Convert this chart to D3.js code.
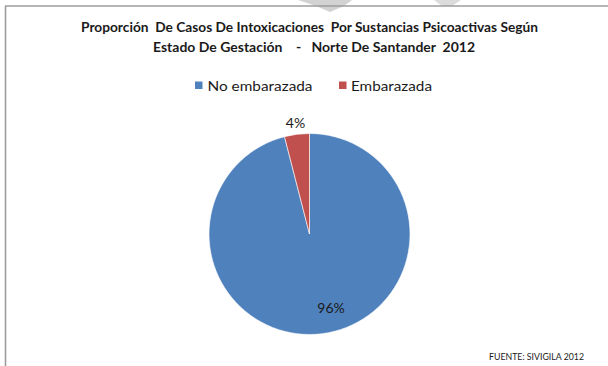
<!DOCTYPE html>
<html>
<head>
<meta charset="utf-8">
<script src="https://cdn.jsdelivr.net/npm/d3@7"></script>
<style>
  html, body { margin: 0; padding: 0; background: #fff; }
  svg { display: block; font-family: Lato, "Open Sans", "Liberation Sans", sans-serif; }
</style>
</head>
<body>
<svg id="chart" width="608" height="366"></svg>
<script>
// Pregnancy status of psychoactive-substance poisoning cases, 2012
const categories = ["No embarazada", "Embarazada"];
const values = [96, 4];
const colors = ["#4F81BD", "#C0504D"];
const titleLines = [
  "Proporción  De Casos De Intoxicaciones  Por Sustancias Psicoactivas Según",
  "Estado De Gestación    -   Norte De Santander  2012"
];
const sourceNote = "FUENTE: SIVIGILA 2012";

const svg = d3.select("#chart");

// faint watermark fragments along the top edge
svg.append("path")
  .attr("d", "M298,0 L352,0 L344,6 L330,12 L316,6 Z")
  .attr("fill", "#d2d2d2");
svg.append("path")
  .attr("d", "M434,0 L461,0 L452,6 L442,6 Z")
  .attr("fill", "#dcdcdc");

// frame: top and left rules
svg.append("line").attr("x1", 5).attr("y1", 6).attr("x2", 608).attr("y2", 6)
  .attr("stroke", "#9c9c9c").attr("stroke-width", 1.6);
svg.append("line").attr("x1", 5.5).attr("y1", 6).attr("x2", 5.5).attr("y2", 366)
  .attr("stroke", "#9c9c9c").attr("stroke-width", 1.6);

// title
const titleSpec = [
  { y: 32, x0: 81, w: 457 },
  { y: 52, x0: 153, w: 322 }
];
titleLines.forEach((t, i) => {
  svg.append("text")
    .attr("x", titleSpec[i].x0)
    .attr("y", titleSpec[i].y)
    .attr("xml:space", "preserve")
    .style("white-space", "pre")
    .attr("textLength", titleSpec[i].w)
    .attr("lengthAdjust", "spacingAndGlyphs")
    .attr("font-size", 12.5)
    .attr("font-weight", "bold")
    .attr("fill", "#1a1a1a")
    .text(t);
});

// legend
const legendItems = [
  { sx: 195, tx: 207.5, tw: 105 },
  { sx: 339, tx: 351, tw: 81 }
];
const legend = svg.append("g");
categories.forEach((c, i) => {
  legend.append("rect")
    .attr("x", legendItems[i].sx).attr("y", 81.5)
    .attr("width", 7.5).attr("height", 7.5)
    .attr("fill", colors[i]);
  legend.append("text")
    .attr("x", legendItems[i].tx).attr("y", 90.5)
    .attr("font-size", 14)
    .attr("textLength", legendItems[i].tw)
    .attr("lengthAdjust", "spacingAndGlyphs")
    .attr("fill", "#1a1a1a")
    .text(c);
});

// pie
const cx = 309.5, cy = 234, r = 100.5;
const color = d3.scaleOrdinal().domain(categories).range(colors);
const pie = d3.pie().sort(null).value(d => d.value);
const data = pie(categories.map((c, i) => ({ cat: c, value: values[i] })));
const arc = d3.arc().innerRadius(0).outerRadius(r);

const g = svg.append("g").attr("transform", `translate(${cx},${cy})`);
g.selectAll("path.slice")
  .data(data)
  .join("path")
  .attr("class", "slice")
  .attr("d", arc)
  .attr("fill", d => color(d.data.cat))
  .attr("stroke", "#ffffff")
  .attr("stroke-width", 0.6);

// percentage labels
const total = d3.sum(values);
const labelArcs = [
  d3.arc().innerRadius(r * 0.76).outerRadius(r * 0.76),
  d3.arc().innerRadius(r * 1.11).outerRadius(r * 1.11)
];
const labelShift = [[12, -2], [0, 0]];
g.selectAll("text.pct")
  .data(data)
  .join("text")
  .attr("class", "pct")
  .attr("transform", (d, i) => {
    const [x, y] = labelArcs[i].centroid(d);
    return `translate(${x + labelShift[i][0]},${y + labelShift[i][1]})`;
  })
  .attr("text-anchor", "middle")
  .attr("dy", "0.36em")
  .attr("font-size", 14)
  .attr("fill", "#1a1a1a")
  .text(d => Math.round(d.data.value / total * 100) + "%");

// source note
svg.append("text")
  .attr("x", 489).attr("y", 359.5)
  .attr("font-size", 8.5)
  .attr("textLength", 95)
  .attr("lengthAdjust", "spacingAndGlyphs")
  .attr("fill", "#1a1a1a")
  .text(sourceNote);
</script>
</body>
</html>
